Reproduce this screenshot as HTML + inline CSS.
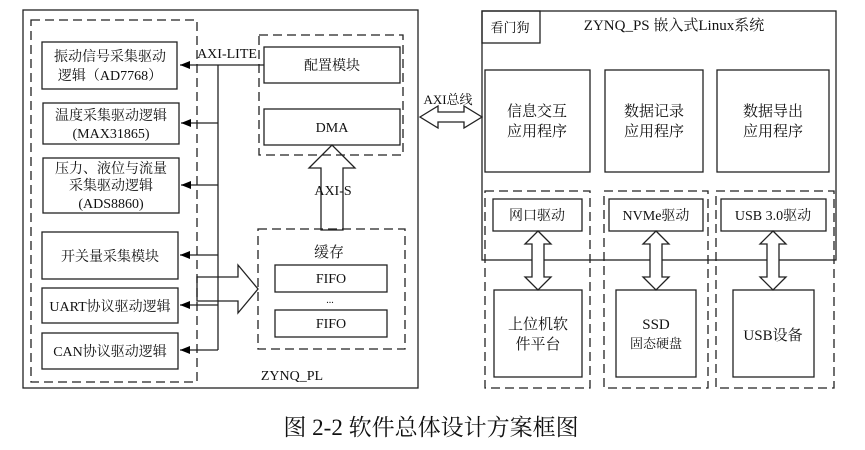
<!DOCTYPE html>
<html><head><meta charset="utf-8"><style>
html,body{margin:0;padding:0;background:#fff;}
svg{display:block;font-family:"Liberation Serif","Noto Serif CJK SC",serif;}
</style></head><body>
<svg width="865" height="450" viewBox="0 0 865 450" xmlns="http://www.w3.org/2000/svg">
<defs>
<marker id="ah" markerWidth="10" markerHeight="8" refX="10" refY="4" orient="auto" markerUnits="userSpaceOnUse">
<path d="M0,0 L10,4 L0,8 Z" fill="#000"/></marker>
</defs>
<g fill="none" stroke="#222" stroke-width="1.3">
<rect x="23" y="10" width="395" height="378"/>
<rect x="31" y="20" width="166" height="362" stroke-dasharray="9,5"/>
<rect x="42" y="42" width="135" height="47"/>
<rect x="43" y="103" width="136" height="41"/>
<rect x="43" y="158" width="136" height="55"/>
<rect x="42" y="232" width="136" height="47"/>
<rect x="42" y="288" width="136" height="35"/>
<rect x="42" y="333" width="136" height="36"/>
<rect x="259" y="35" width="144" height="120" stroke-dasharray="9,5"/>
<rect x="264" y="47" width="136" height="36"/>
<rect x="264" y="109" width="136" height="36"/>
<rect x="258" y="229" width="147" height="120" stroke-dasharray="9,5"/>
<rect x="275" y="265" width="112" height="27"/>
<rect x="275" y="310" width="112" height="27"/>
<line x1="218" y1="65" x2="218" y2="350"/>
<line x1="264" y1="65" x2="180" y2="65" marker-end="url(#ah)"/>
<line x1="218" y1="123" x2="181" y2="123" marker-end="url(#ah)"/>
<line x1="218" y1="185" x2="181" y2="185" marker-end="url(#ah)"/>
<line x1="218" y1="255" x2="180" y2="255" marker-end="url(#ah)"/>
<line x1="218" y1="305" x2="180" y2="305" marker-end="url(#ah)"/>
<line x1="218" y1="350" x2="180" y2="350" marker-end="url(#ah)"/>
<path d="M321,230 L321,168 L309,168 L332,145 L355,168 L343,168 L343,230 Z"/>
<path d="M197,277 L238,277 L238,265 L258,289 L238,313 L238,301 L197,301 Z"/>
<rect x="482" y="11" width="354" height="249"/>
<rect x="482" y="11" width="58" height="32"/>
<rect x="485" y="70" width="105" height="102"/>
<rect x="605" y="70" width="98" height="102"/>
<rect x="717" y="70" width="112" height="102"/>
<rect x="485" y="191" width="105" height="197" stroke-dasharray="9,5"/>
<rect x="604" y="191" width="104" height="197" stroke-dasharray="9,5"/>
<rect x="716" y="191" width="118" height="197" stroke-dasharray="9,5"/>
<rect x="493" y="199" width="89" height="32" fill="#fff"/>
<rect x="609" y="199" width="94" height="32" fill="#fff"/>
<rect x="721" y="199" width="105" height="32" fill="#fff"/>
<rect x="494" y="290" width="88" height="87"/>
<rect x="616" y="290" width="80" height="87"/>
<rect x="733" y="290" width="81" height="87"/>
<path d="M420,117 L438,106 L438,112 L464,112 L464,106 L482,117 L464,128 L464,122 L438,122 L438,128 Z" fill="#fff"/>
</g>
<g fill="#fff" stroke="#222" stroke-width="1.3">
<path d="M538,231 L551,244 L544,244 L544,277 L551,277 L538,290 L525,277 L532,277 L532,244 L525,244 Z"/>
<path d="M656,231 L669,244 L662,244 L662,277 L669,277 L656,290 L643,277 L650,277 L650,244 L643,244 Z"/>
<path d="M773,231 L786,244 L779,244 L779,277 L786,277 L773,290 L760,277 L767,277 L767,244 L760,244 Z"/>
</g>
<g fill="#111" font-size="14" text-anchor="middle">
<text x="110" y="61">振动信号采集驱动</text>
<text x="110" y="80">逻辑（AD7768）</text>
<text x="111" y="120">温度采集驱动逻辑</text>
<text x="111" y="138">(MAX31865)</text>
<text x="111" y="173">压力、液位与流量</text>
<text x="111" y="190">采集驱动逻辑</text>
<text x="111" y="208">(ADS8860)</text>
<text x="110" y="261">开关量采集模块</text>
<text x="110" y="311">UART协议驱动逻辑</text>
<text x="110" y="356">CAN协议驱动逻辑</text>
<text x="227" y="58">AXI-LITE</text>
<text x="332" y="70">配置模块</text>
<text x="332" y="132">DMA</text>
<text x="333" y="195">AXI-S</text>
<text x="329" y="257" font-size="15">缓存</text>
<text x="331" y="283">FIFO</text>
<text x="330" y="303" font-size="10">...</text>
<text x="331" y="328">FIFO</text>
<text x="292" y="380">ZYNQ_PL</text>
<text x="510" y="32" font-size="13">看门狗</text>
<text x="674" y="30" font-size="15">ZYNQ_PS 嵌入式Linux系统</text>
<text x="448" y="104" font-size="13">AXI总线</text>
<text x="537" y="116" font-size="15">信息交互</text>
<text x="537" y="136" font-size="15">应用程序</text>
<text x="654" y="116" font-size="15">数据记录</text>
<text x="654" y="136" font-size="15">应用程序</text>
<text x="773" y="116" font-size="15">数据导出</text>
<text x="773" y="136" font-size="15">应用程序</text>
<text x="537" y="220">网口驱动</text>
<text x="656" y="220">NVMe驱动</text>
<text x="773" y="220">USB 3.0驱动</text>
<text x="538" y="329" font-size="15">上位机软</text>
<text x="538" y="349" font-size="15">件平台</text>
<text x="656" y="329" font-size="15">SSD</text>
<text x="656" y="348" font-size="13">固态硬盘</text>
<text x="773" y="340" font-size="15">USB设备</text>
<text x="431" y="435" font-size="23">图 2-2 软件总体设计方案框图</text>
</g>
</svg>
</body></html>
